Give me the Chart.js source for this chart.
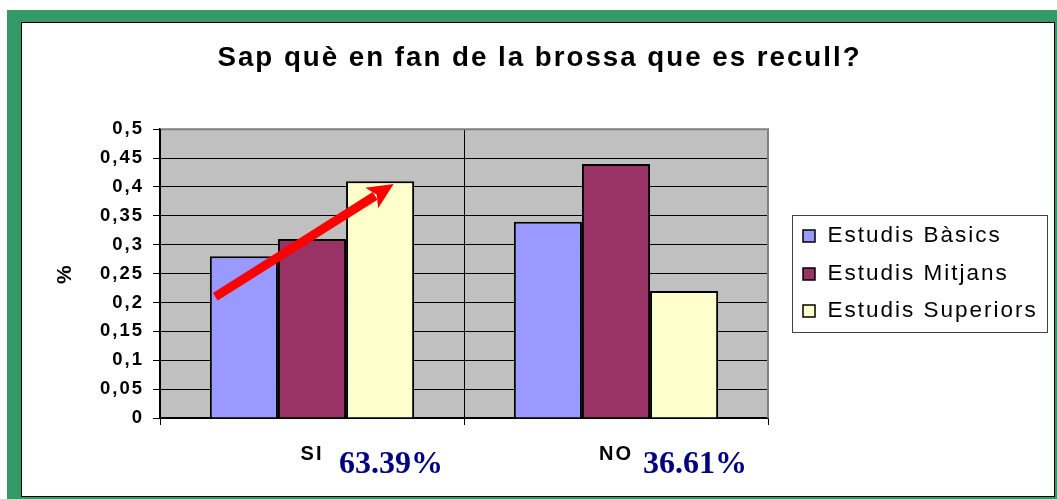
<!DOCTYPE html>
<html lang="ca">
<head>
<meta charset="UTF-8">
<title>Sap què en fan de la brossa que es recull?</title>
<script src="https://cdn.jsdelivr.net/npm/chart.js"></script>
<style>
  body { margin: 0; background: #fff; }
  .frame { position: absolute; left: 7px; top: 10px; width: 1050px; height: 489px; background: #339966; }
  .sheet { position: absolute; left: 14px; top: 12px; right: 2px; bottom: 2px; background: #fff; border: 1px solid #000; }
  canvas { position: absolute; left: 0; top: 0; }
</style>
</head>
<body>
<div class="frame"><div class="sheet"></div></div>
<canvas id="chart" width="1057" height="499"></canvas>
<script>
const categories = ['SI', 'NO'];
const shares = ['63.39%', '36.61%'];
const basics = [0.28, 0.34];
const mitjans = [0.31, 0.44];
const superiors = [0.41, 0.22];
const yTicks = ['0', '0,05', '0,1', '0,15', '0,2', '0,25', '0,3', '0,35', '0,4', '0,45', '0,5'];
// red arrow over the SI group, from the Bàsics bar up to the Superiors bar
const arrowFrom = 0.21;
const arrowTo = 0.405;

const FONT = '"Liberation Sans", Arial, sans-serif';
Chart.defaults.font.family = FONT;
Chart.defaults.color = '#000';

// old Excel text is drawn wide, so space the letters out
const spacing = {
    id: 'spacing',
    beforeUpdate(chart) { chart.ctx.letterSpacing = '2px'; },
    beforeDraw(chart) { chart.ctx.letterSpacing = '2px'; }
};

const plotArea = {
    id: 'plotArea',
    beforeDraw(chart) {
        const {ctx, chartArea: a} = chart;
        ctx.save();
        ctx.fillStyle = '#c0c0c0';
        ctx.fillRect(a.left, a.top, a.right - a.left, a.bottom - a.top);
        ctx.restore();
    },
    afterDatasetsDraw(chart) {
        const {ctx, chartArea: a} = chart;
        ctx.save();
        ctx.strokeStyle = '#808080';
        ctx.lineWidth = 2;
        ctx.beginPath();
        ctx.moveTo(a.left + 1, a.top);
        ctx.lineTo(a.right, a.top);
        ctx.lineTo(a.right, a.bottom);
        ctx.stroke();

        // arrow
        const y = chart.scales.y;
        const b0 = chart.getDatasetMeta(0).data[0];
        const b2 = chart.getDatasetMeta(2).data[0];
        const x0 = b0.x - 0.42 * b0.width, y0 = y.getPixelForValue(arrowFrom);
        const x1 = b2.x + 0.2 * b2.width, y1 = y.getPixelForValue(arrowTo);
        const len = Math.hypot(x1 - x0, y1 - y0);
        const ux = (x1 - x0) / len, uy = (y1 - y0) / len;
        const hl = 26, hw = 12;
        ctx.strokeStyle = '#ff0000';
        ctx.fillStyle = '#ff0000';
        ctx.lineWidth = 9;
        ctx.beginPath();
        ctx.moveTo(x0, y0);
        ctx.lineTo(x1 - ux * (hl - 4), y1 - uy * (hl - 4));
        ctx.stroke();
        ctx.beginPath();
        ctx.moveTo(x1, y1);
        ctx.lineTo(x1 - ux * hl - uy * hw, y1 - uy * hl + ux * hw);
        ctx.lineTo(x1 - ux * (hl - 6), y1 - uy * (hl - 6));
        ctx.lineTo(x1 - ux * hl + uy * hw, y1 - uy * hl - ux * hw);
        ctx.closePath();
        ctx.fill();
        ctx.restore();
    },
    afterDraw(chart) {
        const {ctx, chartArea: a} = chart;
        const sets = chart.data.datasets;
        ctx.save();

        // legend in a framed box right of the plot
        ctx.letterSpacing = '2px';
        ctx.font = '22.5px ' + FONT;
        const textW = Math.max(...sets.map(d => ctx.measureText(d.label).width));
        const rowH = 37.5;
        const boxL = Math.round(a.right + 24);
        const boxT = Math.round((a.top + a.bottom) / 2 - 58.5);
        const boxW = Math.round(11 + 24.5 + textW + 9);
        const boxH = Math.round(rowH * sets.length + 4.5);
        ctx.strokeStyle = '#404040';
        ctx.lineWidth = 1;
        ctx.strokeRect(boxL + 0.5, boxT + 0.5, boxW, boxH);
        ctx.textAlign = 'left';
        ctx.textBaseline = 'middle';
        sets.forEach((d, i) => {
            const cy = boxT + 21 + i * rowH;
            ctx.fillStyle = d.backgroundColor;
            ctx.fillRect(boxL + 11, Math.round(cy - 6), 12, 12);
            ctx.strokeStyle = '#000';
            ctx.lineWidth = 1.5;
            ctx.strokeRect(boxL + 11, Math.round(cy - 6), 12, 12);
            ctx.fillStyle = '#000';
            ctx.fillText(d.label, boxL + 35.5, cy);
        });

        // share of each answer
        ctx.letterSpacing = '0px';
        ctx.font = 'bold 32px "Liberation Serif", "Times New Roman", serif';
        ctx.fillStyle = '#000080';
        ctx.textAlign = 'left';
        ctx.textBaseline = 'alphabetic';
        shares.forEach((s, i) => {
            ctx.fillText(s, chart.scales.x.getPixelForValue(i) + 27, a.bottom + 55);
        });
        ctx.restore();
    }
};

const ctx = document.getElementById('chart').getContext('2d');
const chart = new Chart(ctx, {
    type: 'bar',
    data: {
        labels: categories,
        datasets: [
            { label: 'Estudis Bàsics', data: basics, backgroundColor: '#9999ff' },
            { label: 'Estudis Mitjans', data: mitjans, backgroundColor: '#993366' },
            { label: 'Estudis Superiors', data: superiors, backgroundColor: '#ffffcc' }
        ].map(d => Object.assign(d, {
            yAxisID: 'y',
            borderColor: '#000',
            borderWidth: 2,
            barPercentage: 1,
            categoryPercentage: 0.672
        }))
    },
    options: {
        responsive: false,
        animation: false,
        events: [],
        layout: { padding: { left: 22, right: 0, top: 23, bottom: 30 } },
        plugins: {
            title: {
                display: true,
                text: 'Sap què en fan de la brossa que es recull?',
                font: { size: 27.7, weight: 'bold' },
                padding: { top: 19, bottom: 54 }
            },
            legend: { display: false },
            tooltip: { enabled: false }
        },
        scales: {
            x: {
                grid: { color: '#000', lineWidth: 1, tickLength: 7 },
                border: { color: '#000', width: 1.5 },
                ticks: { font: { size: 20, weight: 'bold' }, padding: 17 },
                afterFit(s) { s.height = 51; }
            },
            y: {
                min: 0,
                max: 0.5,
                ticks: {
                    stepSize: 0.05,
                    font: { size: 18.5, weight: 'bold' },
                    padding: 9,
                    callback: (v, i) => yTicks[i]
                },
                grid: { color: '#000', lineWidth: 1, tickLength: 7 },
                border: { color: '#000', width: 1.5 },
                title: {
                    display: true,
                    text: '%',
                    font: { size: 21, weight: 'bold' },
                    padding: { top: 31, bottom: 0 }
                },
                afterFit(s) { s.width = 138; }
            },
            // room for the legend box
            legendSpace: {
                position: 'right',
                grid: { display: false },
                border: { display: false },
                ticks: { display: false },
                afterFit(s) { s.width = 289; }
            }
        }
    },
    plugins: [spacing, plotArea]
});
</script>
</body>
</html>
